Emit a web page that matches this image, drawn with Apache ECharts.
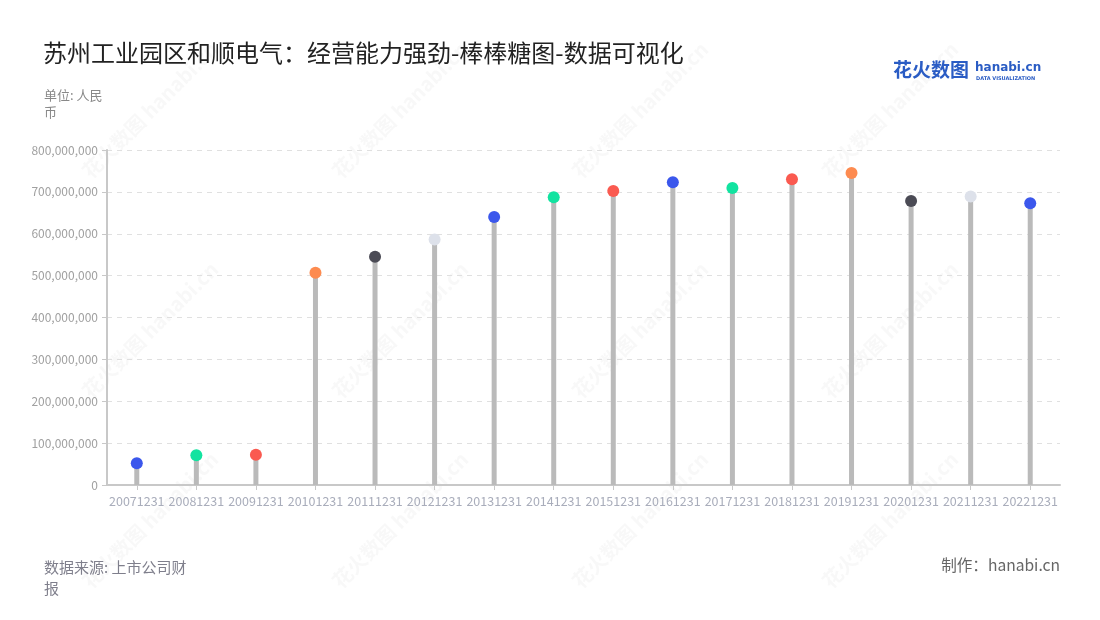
<!DOCTYPE html>
<html>
<head>
<meta charset="utf-8">
<script src="https://cdn.jsdelivr.net/npm/echarts@6/dist/echarts.min.js"></script>
<style>
html,body{margin:0;padding:0;background:#fff;}
#main{width:1100px;height:620px;}
</style>
</head>
<body>
<div id="main"></div>
<script>
var categories = ['20071231','20081231','20091231','20101231','20111231','20121231','20131231','20141231','20151231','20161231','20171231','20181231','20191231','20201231','20211231','20221231'];
var values = [52000000, 71000000, 72000000, 507000000, 545000000, 586000000, 640000000, 687000000, 702000000, 723000000, 709000000, 730000000, 745000000, 678000000, 689000000, 673000000];
var dotColors = ['#3b57ec','#12e3a0','#fa5a50','#fd8b50','#4b4b55','#dde1ea','#3b57ec','#12e3a0','#fa5a50','#3b57ec','#12e3a0','#fa5a50','#fd8b50','#4b4b55','#dde1ea','#3b57ec'];
var titleText = '苏州工业园区和顺电气：经营能力强劲-棒棒糖图-数据可视化';
var unitText = '单位: 人民币';
var sourceText = '数据来源: 上市公司财报';
var makerText = '制作：hanabi.cn';

var FONT = '"Noto Sans CJK SC","Noto Sans",sans-serif';
var chart = echarts.init(document.getElementById('main'));

var watermarks = [];
var wmPos = [[150,110],[400,110],[640,110],[890,110],[150,330],[400,330],[640,330],[890,330],[400,520],[640,520],[890,520],[150,520]];
wmPos.forEach(function(p){
  watermarks.push({
    type:'text', x:p[0], y:p[1], rotation: Math.PI/4, silent:true, z:-1,
    style:{text:'花火数图 hanabi.cn', fill:'rgba(190,190,190,0.10)', font:'bold 20px '+FONT, align:'center', verticalAlign:'middle'}
  });
});

chart.setOption({
  backgroundColor:'#fff',
  animation:false,
  title:[
    {text:titleText, left:43, top:41, padding:0, textStyle:{fontSize:24, fontWeight:'normal', color:'#222', fontFamily:FONT}},
    {text:unitText, left:44, top:87, padding:0, textStyle:{fontSize:13, fontWeight:'normal', color:'#888', fontFamily:FONT, width:66, overflow:'break', lineHeight:17}},
    {text:sourceText, left:44, top:557, padding:0, textStyle:{fontSize:15, fontWeight:'normal', color:'#7f7f8c', fontFamily:FONT, width:154, overflow:'break', lineHeight:21}},
    {text:makerText, right:40, top:557, padding:0, textStyle:{fontSize:15.6, fontWeight:'normal', color:'#666', fontFamily:FONT}}
  ],
  graphic: watermarks.concat([
    {type:'text', left:893, top:60, style:{text:'花火数图', fill:'#2a5cc4', font:'bold 19px '+FONT}},
    {type:'text', left:975, top:62, style:{text:'hanabi.cn', fill:'#2a5cc4', font:'bold 12px "DejaVu Sans",sans-serif'}},
    {type:'text', left:976, top:76, style:{text:'DATA VISUALIZATION', fill:'#2a5cc4', font:'bold 5px "DejaVu Sans",sans-serif'}}
  ]),
  grid:{left:107, right:40, top:150, bottom:135},
  xAxis:{
    type:'category', data:categories,
    axisLine:{lineStyle:{color:'#c8c8c8', width:2}},
    axisTick:{show:true, alignWithLabel:true, lineStyle:{color:'#c8c8c8'}},
    axisLabel:{color:'#a9adbb', fontSize:12.5, fontFamily:FONT, margin:10, interval:0}
  },
  yAxis:{
    type:'value', min:0, max:800000000, interval:100000000,
    axisLine:{show:true, lineStyle:{color:'#c8c8c8', width:2}},
    axisTick:{show:true, lineStyle:{color:'#c8c8c8'}},
    axisLabel:{color:'#a0a0a0', fontSize:12, fontFamily:FONT, margin:9, formatter:function(v){return v.toLocaleString('en-US');}},
    splitLine:{lineStyle:{color:'#e0e0e0', type:[5,5]}}
  },
  series:[
    {type:'bar', data:values, barWidth:5, itemStyle:{color:'#bababa'}, silent:true},
    {type:'scatter', data:values.map(function(v,i){return {value:v, itemStyle:{color:dotColors[i], opacity:1}};}), symbolSize:12, z:3}
  ]
});
</script>
</body>
</html>
